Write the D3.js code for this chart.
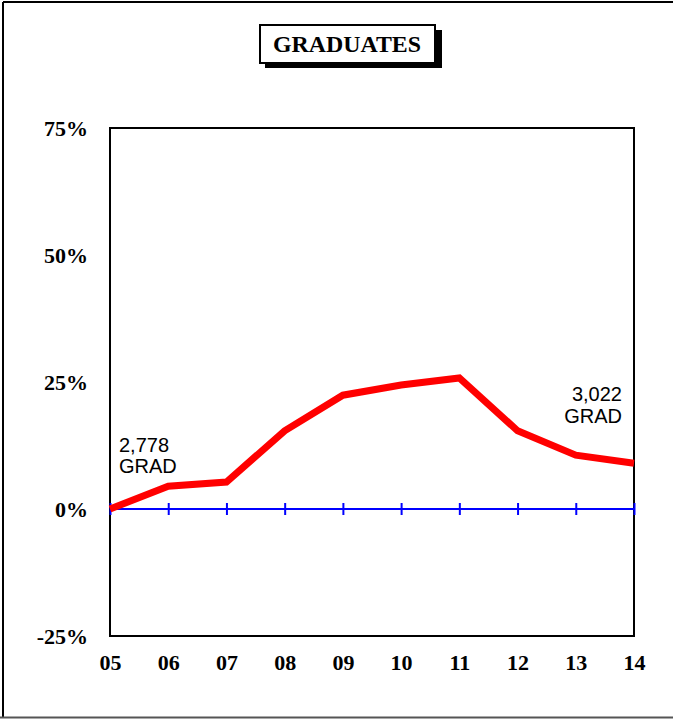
<!DOCTYPE html>
<html><head><meta charset="utf-8">
<script src="https://cdn.jsdelivr.net/npm/d3@7"></script>
<style>html,body{margin:0;padding:0;background:#fff;}svg{display:block;}</style>
</head><body>
<svg id="c" width="673" height="719"></svg>
<script>
const title = "GRADUATES";
const categories = ["05","06","07","08","09","10","11","12","13","14"];
const values = [0, 4.5, 5.3, 15.4, 22.4, 24.4, 25.8, 15.4, 10.6, 9.0];
const yTicks = [-25, 0, 25, 50, 75];
const yTickLabels = ["-25%", "0%", "25%", "50%", "75%"];
const startNote = ["2,778", "GRAD"];
const endNote = ["3,022", "GRAD"];

const svg = d3.select("#c");
const L = 110, R = 634, T = 128, B = 636;
const x = d3.scalePoint().domain(categories).range([L, R]);
const y = d3.scaleLinear().domain([-25, 75]).range([B, T]);

// outer border
svg.append("line").attr("x1",3).attr("y1",2).attr("x2",673).attr("y2",2).attr("stroke","#000").attr("stroke-width",2);
svg.append("line").attr("x1",3).attr("y1",2).attr("x2",3).attr("y2",718).attr("stroke","#000").attr("stroke-width",2);
svg.append("line").attr("x1",0).attr("y1",717.5).attr("x2",673).attr("y2",717.5).attr("stroke","#555").attr("stroke-width",2);

// title box with shadow
svg.append("rect").attr("x",265).attr("y",30).attr("width",177).attr("height",38).attr("fill","#000");
svg.append("rect").attr("x",260).attr("y",25).attr("width",175).attr("height",38).attr("fill","#fff").attr("stroke","#000").attr("stroke-width",2);
svg.append("text").attr("x",347).attr("y",52).attr("text-anchor","middle")
  .attr("font-family","Liberation Serif, Times New Roman, serif").attr("font-weight","bold").attr("font-size",24)
  .attr("textLength",148).attr("lengthAdjust","spacingAndGlyphs")
  .text(title);

// frame
svg.append("rect").attr("x",L).attr("y",T).attr("width",R-L).attr("height",B-T)
  .attr("fill","none").attr("stroke","#000").attr("stroke-width",2);

// y axis labels
const yAxis = d3.axisLeft(y).tickValues(yTicks).tickSize(0).tickPadding(22)
  .tickFormat((d,i)=>yTickLabels[i]);
const gy = svg.append("g").attr("transform",`translate(${L},0)`).call(yAxis);
gy.select(".domain").remove();
gy.selectAll("text").attr("font-family","Liberation Serif, Times New Roman, serif")
  .attr("font-weight","bold").attr("font-size",22).attr("fill","#000");

// x axis labels
const xAxis = d3.axisBottom(x).tickSize(0).tickPadding(18);
const gx = svg.append("g").attr("transform",`translate(0,${B})`).call(xAxis);
gx.select(".domain").remove();
gx.selectAll("text").attr("font-family","Liberation Serif, Times New Roman, serif")
  .attr("font-weight","bold").attr("font-size",22).attr("fill","#000");

// zero line with ticks
const g0 = svg.append("g").attr("transform",`translate(0,${y(0)})`)
  .call(d3.axisBottom(x).tickSize(6).tickSizeOuter(0).tickFormat(""));
g0.select(".domain").attr("stroke","#0000ff").attr("stroke-width",2).attr("d",`M${L},0H${R}`);
g0.selectAll(".tick line").attr("stroke","#0000ff").attr("stroke-width",2).attr("y1",-6).attr("y2",6);

// data line
const line = d3.line().x((d,i)=>x(categories[i])).y(d=>y(d));
svg.append("path").datum(values).attr("d",line).attr("fill","none")
  .attr("stroke","#ff0000").attr("stroke-width",7).attr("stroke-linejoin","miter");

// annotations
const noteFont = "Liberation Sans, Arial, sans-serif";
const n1 = svg.append("text").attr("font-family",noteFont).attr("font-size",20).attr("fill","#000");
startNote.forEach((t,i)=>n1.append("tspan").attr("x",119).attr("y",452+i*21).text(t));
const n2 = svg.append("text").attr("font-family",noteFont).attr("font-size",20).attr("fill","#000").attr("text-anchor","end");
endNote.forEach((t,i)=>n2.append("tspan").attr("x",622).attr("y",401+i*22).text(t));
</script>
</body></html>
